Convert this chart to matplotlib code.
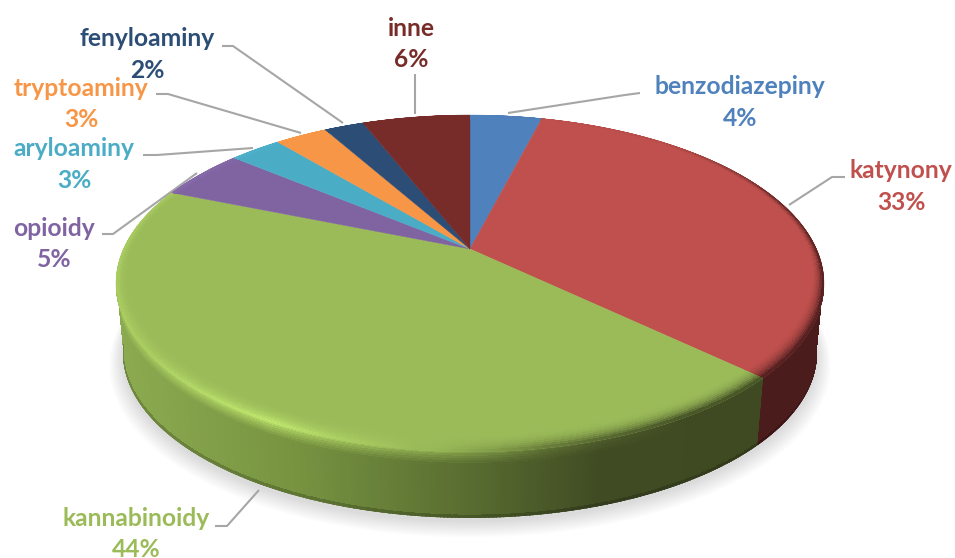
# %%
from matplotlib import pyplot as plt
from matplotlib.collections import PolyCollection
from matplotlib.colors import to_rgb
from matplotlib.patches import Polygon
import numpy as np

# %% data
categories = ['benzodiazepiny', 'katynony', 'kannabinoidy', 'opioidy', 'aryloaminy', 'tryptoaminy', 'fenyloaminy', 'inne']
values = [4.0, 33.1, 44.1, 4.9, 2.9, 2.9, 2.2, 6.0]
percent_labels = ['4%', '33%', '44%', '5%', '3%', '3%', '2%', '6%']

# %% styles and layout (pixels of the 955x558 picture)
colors = ['#4f81bd', '#c0504d', '#9bbb59', '#8064a2', '#4bacc6', '#f79646', '#2c4d75', '#772c2a']
label_x = [740, 901, 136, 54, 74, 81, 147, 411]
label_y = [87, 171, 518, 228, 149, 88, 39, 28]
leaders = [
	[(508, 113), (625, 95), (640, 93)],
	[(789, 205), (832, 177), (845, 177)],
	[(259, 490), (227, 526), (215, 526)],
	[(197, 173), (113, 234), (102, 234)],
	[(253, 148), (157, 155), (143, 155)],
	[(301, 133), (168, 94), (156, 94)],
	[(343, 123), (233, 46), (222, 46)],
	[(415, 114), (415, 74)],
]

X0, Y0 = 470, 249
W, H, K = 346.5, 161.4, 0.2047
DEPTH, BOTTOM_SCALE = 70, 0.98
WALL_FROM, WALL_TO = 100, 260   # the rest of the wall is hidden behind the top

def project(theta, r=1.0, scale=1.0, dy=0.0):
	'''theta in degrees clockwise from the top, tilted circle with some perspective'''
	u = r * np.sin(np.radians(theta))
	v = r * np.cos(np.radians(theta))
	d = 1 + K * v
	return X0 + scale * W * u / d, Y0 + scale * H * v * -1 / d + dy

def rim_shade(theta):
	'''negative goes to the side colour, positive makes the slice colour brighter'''
	t = [0, 40, 70, 100, 150, 170, 185, 208, 235, 270, 300, 330, 360]
	s = [0, -0.1, -0.8, -1, -1, -0.7, -0.05, 0.36, 0.16, 0.14, 0.08, 0, 0]
	return np.interp(theta, t, s)

def side_color(idx, x):
	if idx == 2:
		xs = [117, 300, 470, 600, 770]
		r = np.interp(x, xs, [0x8c, 0x76, 0x58, 0x40, 0x3f])
		g = np.interp(x, xs, [0xab, 0x92, 0x6c, 0x4b, 0x4a])
		b = np.interp(x, xs, [0x50, 0x40, 0x30, 0x23, 0x22])
		return np.array([r, g, b]) / 255
	if idx == 1:
		return np.array(to_rgb('#4b1c1c'))
	return np.array(to_rgb(colors[idx])) * 0.4

def rim_color(idx, theta, x):
	base = np.array(to_rgb(colors[idx]))
	s = rim_shade(theta)
	if s < 0:
		return base + (side_color(idx, x) - base) * (-s)
	return np.clip(base * (1 + 0.7 * s), 0, 1)

# %%
fig = plt.figure(figsize=(9.55, 5.58), dpi=100)
ax = fig.add_axes([0, 0, 1, 1])
ax.set_xlim(0, 955)
ax.set_ylim(558, 0)
ax.axis('off')

# soft shadow under the pie
tt = np.linspace(0, 360, 361)
for i in range(12):
	sx, sy = project(tt, scale=BOTTOM_SCALE + 0.0035 * i, dy=DEPTH + 4 + i * 0.7)
	ax.fill(sx, sy, color='#808080', alpha=0.022, lw=0, zorder=1)

for pts in leaders:
	ax.plot(*zip(*pts), color='#a6a6a6', lw=1.5, solid_capstyle='butt', zorder=2)

edges = np.concatenate([[0], np.cumsum(values)]) / np.sum(values) * 360

rows = np.linspace(0, 1, 29)
rim_rows = np.linspace(0, 1, 11)
for idx in range(len(values)):
	# side wall, light near the rim and a thin dark line at the foot
	start, stop = max(edges[idx], WALL_FROM), min(edges[idx + 1], WALL_TO)
	if stop > start:
		n = max(int((stop - start) * 2), 2)
		th = np.linspace(start, stop, n + 1)
		tx, ty = project(th)
		bx, by = project(th, scale=BOTTOM_SCALE, dy=DEPTH)
		side_polys, side_cols = [], []
		for i in range(n):
			mid = (th[i] + th[i + 1]) / 2
			xm = (tx[i] + tx[i + 1]) / 2
			side = side_color(idx, xm)
			rim = rim_color(idx, mid, xm)
			for a, b in zip(rows[:-1], rows[1:]):
				p = [(tx[i] + (bx[i] - tx[i]) * a, ty[i] + (by[i] - ty[i]) * a),
					(tx[i + 1] + (bx[i + 1] - tx[i + 1]) * a, ty[i + 1] + (by[i + 1] - ty[i + 1]) * a),
					(tx[i + 1] + (bx[i + 1] - tx[i + 1]) * b, ty[i + 1] + (by[i + 1] - ty[i + 1]) * b),
					(tx[i] + (bx[i] - tx[i]) * b, ty[i] + (by[i] - ty[i]) * b)]
				c = (a + b) / 2
				if c < 0.2:
					col = rim + (side - rim) * (c / 0.2) ** 0.7
				elif c > 0.965:
					col = side * 0.8
				else:
					col = side
				side_polys.append(p)
				side_cols.append(col)
		wall_pts = list(zip(tx, ty)) + list(zip(bx[::-1], by[::-1]))
		wall = Polygon(wall_pts, closed=True, facecolor='none', edgecolor='none')
		ax.add_patch(wall)
		walls = PolyCollection(side_polys, facecolors=side_cols, edgecolors='face', linewidths=0.6, antialiaseds=False, zorder=3)
		ax.add_collection(walls)
		walls.set_clip_path(wall)

	# flat top with the bevel along its outer edge
	n = max(int((edges[idx + 1] - edges[idx]) * 2), 2)
	th = np.linspace(edges[idx], edges[idx + 1], n + 1)
	tx, ty = project(th)
	base = np.array(to_rgb(colors[idx]))
	rim_polys, rim_cols = [], []
	for i in range(n):
		mid = (th[i] + th[i + 1]) / 2
		xm = (tx[i] + tx[i + 1]) / 2
		rim = rim_color(idx, mid, xm)
		w = [0.026 + 0.05 * max(0, -np.cos(np.radians(q))) for q in (th[i], th[i + 1])]
		for a, b in zip(rim_rows[:-1], rim_rows[1:]):
			x1, y1 = project(th[i], 1 - w[0] * (1 - a))
			x2, y2 = project(th[i + 1], 1 - w[1] * (1 - a))
			x3, y3 = project(th[i + 1], 1 - w[1] * (1 - b))
			x4, y4 = project(th[i], 1 - w[0] * (1 - b))
			f = ((a + b) / 2) ** 2.5
			rim_polys.append([(x1, y1), (x2, y2), (x3, y3), (x4, y4)])
			rim_cols.append(base + (rim - base) * f)

	th_fine = np.linspace(edges[idx], edges[idx + 1], 300)
	ex, ey = project(th_fine)
	pts = [(X0, Y0)] + list(zip(ex, ey))
	top = Polygon(pts, closed=True, facecolor=colors[idx], edgecolor=colors[idx], lw=0.3, zorder=4)
	ax.add_patch(top)
	bevel = PolyCollection(rim_polys, facecolors=rim_cols, edgecolors='face', linewidths=0.6, antialiaseds=False, zorder=5)
	ax.add_collection(bevel)
	bevel.set_clip_path(top)

for name, pct, col, lx, ly in zip(categories, percent_labels, colors, label_x, label_y):
	ax.text(lx, ly, name, color=col, family='Lato', weight='bold', fontsize=17.7, ha='center', va='center', zorder=6)
	ax.text(lx, ly + 31.5, pct, color=col, family='Lato', weight='bold', fontsize=17.7, ha='center', va='center', zorder=6)

fig.savefig('out.png', dpi=100, facecolor='white')
